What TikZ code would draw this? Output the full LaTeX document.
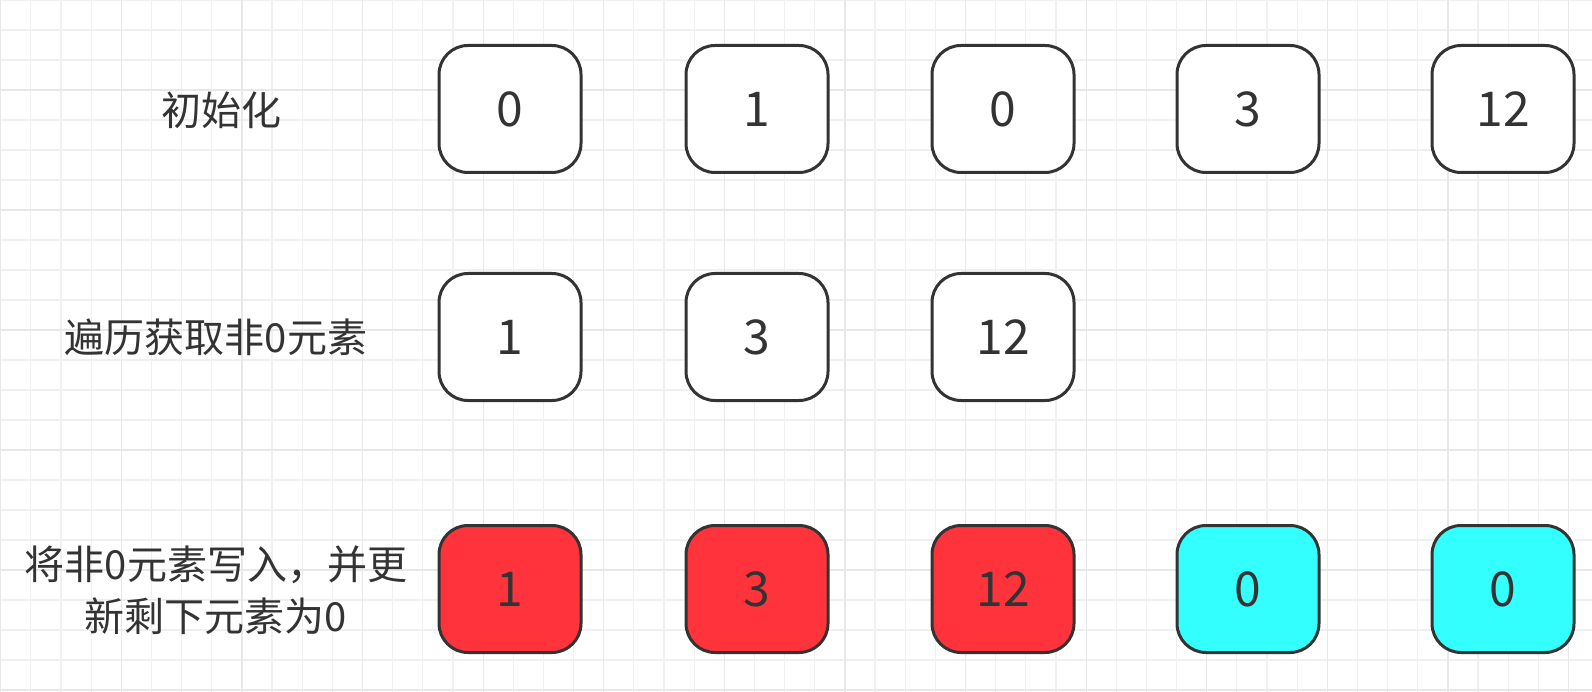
\documentclass[tikz,border=0pt]{standalone}
\usepackage{fontspec}
\newfontfamily\cjk{Noto Sans CJK SC}
\definecolor{gridminor}{HTML}{F0F0F0}
\definecolor{gridmajor}{HTML}{E8E8E8}
\definecolor{edge}{HTML}{333333}
\definecolor{fillred}{RGB}{255,51,59}
\definecolor{fillcyan}{RGB}{51,255,255}

\begin{document}
\begin{tikzpicture}[%
        x=1pt, y=-1pt,
        cell/.style={draw=edge, line width=3pt, rounded corners=29pt,
            minimum width=142pt, minimum height=127pt, fill=white,
            text=edge, font=\cjk\fontsize{48}{52}\selectfont},
        stage/.style={text=edge, align=center,
            font=\cjk\fontsize{40}{52}\selectfont},
    ]
    \useasboundingbox (0,0) rectangle (1592,692);
    \fill[white] (0,0) rectangle (1592,692);
    % grid
    \foreach \i in {0,...,52}
        \draw[gridminor, line width=1.2pt] (\i*30.15+0.7,0) -- (\i*30.15+0.7,692);
    \foreach \j in {0,...,23}
        \draw[gridminor, line width=1.2pt] (0,\j*30) -- (1592,\j*30);
    \foreach \i in {0,...,13}
        \draw[gridmajor, line width=1.2pt] (\i*120.6+0.7,0) -- (\i*120.6+0.7,692);
    \foreach \j in {0,...,5}
        \draw[gridmajor, line width=1.2pt] (0,\j*120+90) -- (1592,\j*120+90);

    % row labels
    \node[stage] (lblInit) at (221,110) {初始化};
    \node[stage] (lblScan) at (216,337) {遍历获取非0元素};
    \node[stage] (lblWrite) at (216,590) {将非0元素写入，并更\\新剩下元素为0};

    % initial array
    \node[cell] (init1) at (510,109) {0};
    \node[cell] (init2) at (757,109) {1};
    \node[cell] (init3) at (1003,109) {0};
    \node[cell] (init4) at (1248,109) {3};
    \node[cell] (init5) at (1503,109) {12};

    % non-zero elements
    \node[cell] (scan1) at (510,337) {1};
    \node[cell] (scan2) at (757,337) {3};
    \node[cell] (scan3) at (1003,337) {12};

    % result
    \node[cell, fill=fillred] (write1) at (510,589) {1};
    \node[cell, fill=fillred] (write2) at (757,589) {3};
    \node[cell, fill=fillred] (write3) at (1003,589) {12};
    \node[cell, fill=fillcyan] (write4) at (1248,589) {0};
    \node[cell, fill=fillcyan] (write5) at (1503,589) {0};
\end{tikzpicture}
\end{document}
